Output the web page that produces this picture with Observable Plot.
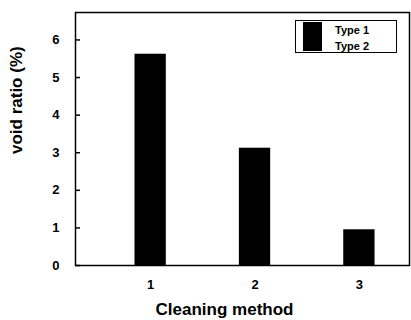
<!DOCTYPE html>
<html>
<head>
<meta charset="utf-8">
<script src="https://cdn.jsdelivr.net/npm/d3@7"></script>
<script src="https://cdn.jsdelivr.net/npm/@observablehq/plot@0.6"></script>
<style>
  body { margin: 0; background: #fff; }
  #wrap { position: relative; width: 411px; height: 320px; font-family: "Liberation Sans", Arial, sans-serif; }
  #legend { position: absolute; left: 295px; top: 20px; width: 100px; height: 31px; border: 1.5px solid #000; background: #fff; }
  #legend .sw { position: absolute; left: 7px; top: 1px; width: 19px; height: 29px; background: #000; }
  #legend .lb { position: absolute; left: 39px; font-size: 11px; font-weight: bold; color: #000; line-height: 12px; }
</style>
</head>
<body>
<div id="wrap"></div>
<script>
const methods = [1, 2, 3];
const voidRatio = [5.62, 3.12, 0.95];
const yTicks = [0, 1, 2, 3, 4, 5, 6];
const seriesNames = ["Type 1", "Type 2"];
const xLabel = "Cleaning method";
const yLabel = "void ratio (%)";

const data = methods.map((m, i) => ({method: m, value: voidRatio[i]}));
const halfWidth = 0.15;

const chart = Plot.plot({
  width: 411,
  height: 320,
  marginLeft: 75,
  marginRight: 2,
  marginTop: 12,
  marginBottom: 55,
  style: {fontFamily: "'Liberation Sans', Arial, sans-serif", fontWeight: "bold", color: "#000", background: "#fff"},
  x: {domain: [0.28, 3.48]},
  y: {domain: [0, 6.73]},
  marks: [
    Plot.rectY(data, {x1: d => d.method - halfWidth, x2: d => d.method + halfWidth, y1: 0, y2: "value", fill: "#000"}),
    Plot.axisY({ticks: yTicks, tickSize: -5, tickPadding: 21, tickFormat: d3.format("d"), label: null, fontSize: 13, strokeWidth: 1.5}),
    Plot.axisX({ticks: methods, tickSize: 0, tickPadding: 14, tickFormat: d3.format("d"), label: null, fontSize: 13}),
    Plot.frame({stroke: "#000", strokeWidth: 1.5}),
    Plot.text([xLabel], {frameAnchor: "bottom", dy: 49, dx: -18, fontSize: 17, fontWeight: "bold"}),
    Plot.text([yLabel], {frameAnchor: "left", rotate: -90, dx: -59, dy: 15, fontSize: 17, fontWeight: "bold"})
  ]
});
const wrap = document.getElementById("wrap");
wrap.appendChild(chart);

const legend = document.createElement("div");
legend.id = "legend";
const sw = document.createElement("div");
sw.className = "sw";
legend.appendChild(sw);
seriesNames.forEach((name, i) => {
  const lb = document.createElement("div");
  lb.className = "lb";
  lb.style.top = (3 + i * 16) + "px";
  lb.textContent = name;
  legend.appendChild(lb);
});
wrap.appendChild(legend);
</script>
</body>
</html>
